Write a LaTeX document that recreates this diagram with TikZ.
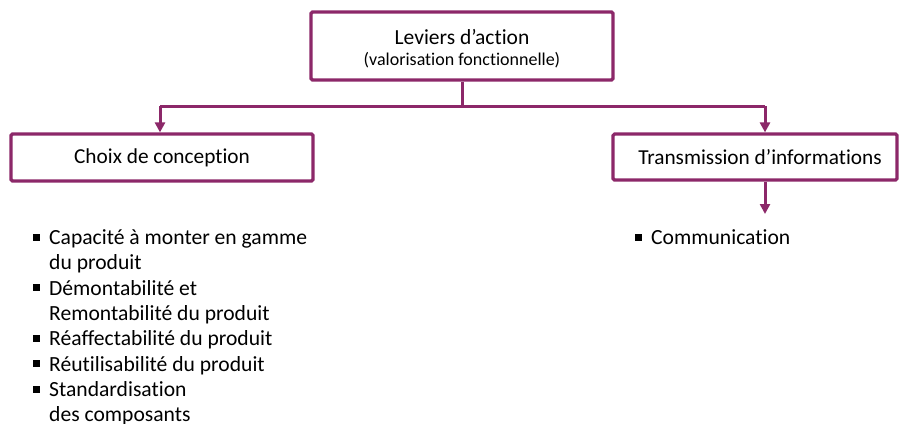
\documentclass[tikz,border=0pt]{standalone}
\usepackage{fontspec}
\setmainfont{Carlito}[RawFeature={-liga;-clig;-dlig;-calt}]
\usetikzlibrary{arrows.meta}
\definecolor{prune}{RGB}{140,40,105}
\tikzset{
  x=1pt, y=-1pt,
  levbox/.style={draw=prune, line width=3.2pt, rounded corners=1.5pt, fill=white, inner sep=0pt},
  conn/.style={draw=prune, line width=3pt},
  arr/.style={conn, -{Triangle[width=10pt,length=10pt]}},
  listtxt/.style={font=\fontsize{21.6}{25.3}\selectfont, align=left, inner sep=0pt, anchor=north west},
}
\newcommand{\bul}{\makebox[16pt][l]{\raisebox{3.8pt}{\rule{7pt}{7pt}}}}
\newcommand{\ind}{\hspace*{16pt}}
\begin{document}
\begin{tikzpicture}
\useasboundingbox (0,0) rectangle (901,423);
\node[levbox, minimum width=302pt, minimum height=68pt] (top) at (462,46) {};
\node[font=\fontsize{21.5}{21.5}\selectfont, inner sep=0pt] (toptitle) at (462,37) {Leviers d’action};
\node[font=\fontsize{18}{18}\selectfont, inner sep=0pt] (topsub) at (462,60) {(valorisation fonctionnelle)};
\node[levbox, minimum width=302pt, minimum height=47pt, font=\fontsize{21.3}{21.3}\selectfont] (choix) at (162,157.5) {Choix de conception};
\node[levbox, minimum width=284pt, minimum height=46pt, font=\fontsize{21.3}{21.3}\selectfont] (trans) at (755,157) {\hspace*{10pt}Transmission d’informations};
\coordinate (junc) at (top.south |- 0,106);
\coordinate (lend) at (choix.north -| 160,0);
\coordinate (rend) at (trans.north -| 765,0);
\draw[conn] (top.south) -- (junc);
\draw[conn] (lend |- junc) -- (rend |- junc);
\draw[arr] (lend |- junc) -- (lend);
\draw[arr] (rend |- junc) -- (rend);
\coordinate (commtop) at (765,214);
\draw[arr] (trans.south -| commtop) -- (commtop);
\node[listtxt] (leftlist) at (33,229.5) {\bul Capacité à monter en gamme\\ \ind du produit\\ \bul Démontabilité et\\ \ind Remontabilité du produit\\ \bul Réaffectabilité du produit\\ \bul Réutilisabilité du produit\\ \bul Standardisation\\ \ind des composants};
\node[listtxt] (rightlist) at (635,229.5) {\bul Communication};
\end{tikzpicture}
\end{document}
